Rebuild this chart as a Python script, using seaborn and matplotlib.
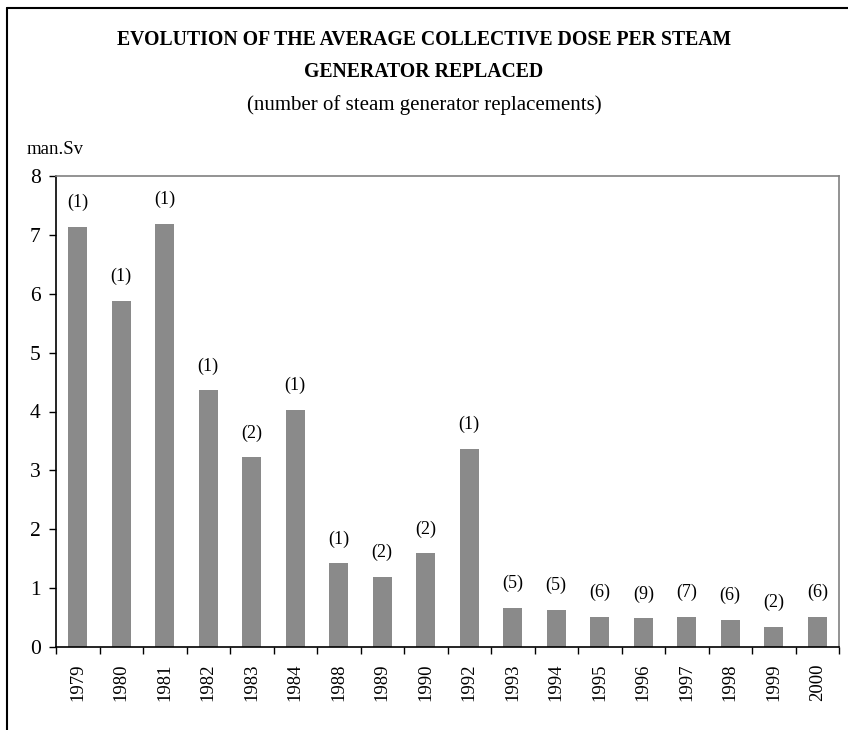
import matplotlib
matplotlib.use("Agg")
import matplotlib.pyplot as plt
from matplotlib.lines import Line2D
import seaborn as sns
import pandas as pd
import numpy as np

years = ["1979", "1980", "1981", "1982", "1983", "1984", "1988", "1989", "1990",
         "1992", "1993", "1994", "1995", "1996", "1997", "1998", "1999", "2000"]
dose = [7.14, 5.88, 7.19, 4.36, 3.22, 4.03, 1.42, 1.19, 1.59,
        3.37, 0.66, 0.63, 0.51, 0.49, 0.51, 0.46, 0.34, 0.51]
replacements = [1, 1, 1, 1, 2, 1, 1, 2, 2, 1, 5, 5, 6, 9, 7, 6, 2, 6]
yticks = [0, 1, 2, 3, 4, 5, 6, 7, 8]

sns.set_theme(style="white")
plt.rcParams['font.family'] = ['Liberation Serif', 'DejaVu Serif']
plt.rcParams['text.color'] = 'black'
plt.rcParams['xtick.color'] = 'black'
plt.rcParams['ytick.color'] = 'black'
plt.rcParams['axes.labelcolor'] = 'black'

df = pd.DataFrame({"year": years, "dose": dose})

fig = plt.figure(figsize=(8.48, 7.30), dpi=100)
ax = fig.add_axes([56/848, 1-647/730, (839-56)/848, (647-176)/730])

sns.barplot(data=df, x="year", y="dose", color="#8a8a8a", width=0.44,
            saturation=1, ax=ax, edgecolor="none")

for i, (v, n) in enumerate(zip(dose, replacements)):
    ax.annotate(f"({n})", xy=(i, v), xytext=(0, 17.5), textcoords="offset points",
                ha="center", va="center", fontsize=13, color="black")

ax.set_xlim(-0.5, len(years) - 0.5)
ax.set_ylim(0, 8)
ax.set_yticks(yticks)
ax.set_yticklabels([str(t) for t in yticks], fontsize=15.5)
ax.set_xticks(range(len(years)))
ax.set_xticklabels(years, rotation=90, fontsize=13.5)
ax.set_xticks(np.arange(-0.5, len(years), 1.0), minor=True)
ax.tick_params(axis="x", which="major", length=0, pad=12)
ax.tick_params(axis="x", which="minor", length=5, width=1, color="black", direction="out", bottom=True)
ax.tick_params(axis="y", which="major", length=5, width=1, color="black", direction="out", left=True, pad=6)
ax.set_xlabel("")
ax.set_ylabel("")

for s in ["left", "bottom"]:
    ax.spines[s].set_color("black")
    ax.spines[s].set_linewidth(1.2)
for s in ["top", "right"]:
    ax.spines[s].set_color("#808080")
    ax.spines[s].set_linewidth(1.2)
    ax.spines[s].set_visible(True)

fig.text(0.5, 1-40/730, "EVOLUTION OF THE AVERAGE COLLECTIVE DOSE PER STEAM",
         ha="center", va="center", fontsize=14.2, fontweight="bold")
fig.text(0.5, 1-72/730, "GENERATOR REPLACED",
         ha="center", va="center", fontsize=14.2, fontweight="bold")
fig.text(0.5, 1-105/730, "(number of steam generator replacements)",
         ha="center", va="center", fontsize=15)
fig.text(27/848, 1-149/730, "man.Sv", ha="left", va="center", fontsize=13.5)

fig.add_artist(Line2D([7/848, 7/848], [0, 1-8/730], transform=fig.transFigure, color="black", lw=1.5))
fig.add_artist(Line2D([7/848, 1], [1-8/730, 1-8/730], transform=fig.transFigure, color="black", lw=1.5))

fig.savefig("out.png", dpi=100)
